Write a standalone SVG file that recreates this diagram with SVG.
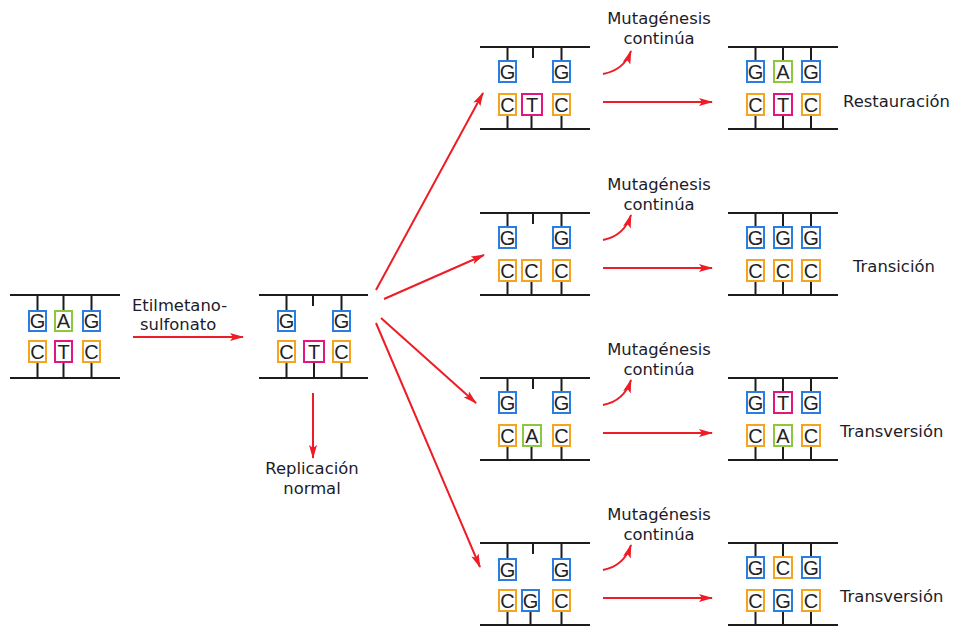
<svg xmlns="http://www.w3.org/2000/svg" width="956" height="629" viewBox="0 0 956 629">
  <style>
    .strand { stroke: #1c1c1c; stroke-width: 2; fill: none; }
    .base { fill: #fff; stroke-width: 2; }
    .g { stroke: #2a7de1; }
    .a { stroke: #8dc63f; }
    .t { stroke: #e4157f; }
    .c { stroke: #f5a41f; }
    .nt { font-family: "Liberation Sans", Arial, sans-serif; font-size: 20px; fill: #222; text-anchor: middle; }
    .lbl { font-family: "DejaVu Sans", "Noto Sans", sans-serif; font-size: 16.4px; fill: #1c1c2a; }
    .mid { text-anchor: middle; }
    .arrow { stroke: #ee1c24; stroke-width: 2; fill: none; marker-end: url(#head); }
  </style>
  <defs>
    <marker id="head" markerUnits="userSpaceOnUse" markerWidth="14" markerHeight="8" refX="13" refY="4" orient="auto">
      <path d="M0,0 L14,4 L0,8 L3,4 z" fill="#ee1c24"/>
    </marker>
  </defs>
  <rect width="956" height="629" fill="#fff"/>

  <!-- starting duplex G-A-G / C-T-C -->
  <g id="dna-start">
    <path class="strand" d="M10 295 H120 M10 378 H120 M37.5 295 V311 M63.5 295 V311 M91.5 295 V311 M37.5 362 V378 M63.5 362 V378 M91.5 362 V378"/>
    <rect class="base g" x="29" y="311" width="17" height="20"/><text class="nt" x="37.5" y="328">G</text>
    <rect class="base a" x="55" y="311" width="17" height="20"/><text class="nt" x="63.5" y="328">A</text>
    <rect class="base g" x="83" y="311" width="17" height="20"/><text class="nt" x="91.5" y="328">G</text>
    <rect class="base c" x="29" y="341" width="17" height="21"/><text class="nt" x="37.5" y="359">C</text>
    <rect class="base t" x="55" y="341" width="17" height="21"/><text class="nt" x="63.5" y="359">T</text>
    <rect class="base c" x="83" y="341" width="17" height="21"/><text class="nt" x="91.5" y="359">C</text>
  </g>

  <g id="label-ems">
    <text class="lbl"><tspan x="132" y="311">Etilmetano-</tspan><tspan x="140" y="330.3">sulfonato</tspan></text>
  </g>

  <!-- alkylated duplex: G lost opposite T -->
  <g id="dna-alkylated">
    <path class="strand" d="M259 295 H368 M259 378 H368 M286.5 295 V311 M313 295 V306 M341.5 295 V311 M286.5 362 V378 M314 362 V378 M341.5 362 V378"/>
    <rect class="base g" x="278" y="311" width="17" height="20"/><text class="nt" x="286.5" y="328">G</text>
    <rect class="base g" x="333" y="311" width="17" height="20"/><text class="nt" x="341.5" y="328">G</text>
    <rect class="base c" x="278" y="341" width="17" height="21"/><text class="nt" x="286.5" y="359">C</text>
    <rect class="base t" x="304" y="341" width="20" height="21"/><text class="nt" x="314" y="359">T</text>
    <rect class="base c" x="333" y="341" width="17" height="21"/><text class="nt" x="341.5" y="359">C</text>
  </g>

  <g id="label-replicacion">
    <text class="lbl mid"><tspan x="312" y="474.4">Replicación</tspan><tspan x="312" y="493.6">normal</tspan></text>
  </g>

  <!-- row 1: restoration -->
  <g id="dna-r1-intermediate" transform="translate(0 47)">
    <path class="strand" d="M480 0 H590 M480 82 H590 M507.5 0 V14 M533 0 V11 M561.5 0 V14 M507.5 68 V82 M531.5 68 V82 M561.5 68 V82"/>
    <rect class="base g" x="499" y="14" width="17" height="21"/><text class="nt" x="507.5" y="32">G</text>
    <rect class="base g" x="553" y="14" width="17" height="21"/><text class="nt" x="561.5" y="32">G</text>
    <rect class="base c" x="499" y="47" width="17" height="21"/><text class="nt" x="507.5" y="65">C</text>
    <rect class="base t" x="522" y="47" width="20" height="21"/><text class="nt" x="532" y="65">T</text>
    <rect class="base c" x="553" y="47" width="17" height="21"/><text class="nt" x="561.5" y="65">C</text>
  </g>
  <g id="label-mut-r1">
    <text class="lbl mid"><tspan x="659" y="24.4">Mutagénesis</tspan><tspan x="659" y="43.6">continúa</tspan></text>
  </g>
  <g id="dna-r1-product" transform="translate(0 47)">
    <path class="strand" d="M728 0 H838 M728 82 H838 M755.5 0 V14 M783 0 V14 M811 0 V14 M755.5 68 V82 M783 68 V82 M811 68 V82"/>
    <rect class="base g" x="747" y="14" width="17" height="21"/><text class="nt" x="755.5" y="32">G</text>
    <rect class="base a" x="774" y="14" width="18" height="21"/><text class="nt" x="783" y="32">A</text>
    <rect class="base g" x="802" y="14" width="18" height="21"/><text class="nt" x="811" y="32">G</text>
    <rect class="base c" x="747" y="47" width="17" height="21"/><text class="nt" x="755.5" y="65">C</text>
    <rect class="base t" x="774" y="47" width="18" height="21"/><text class="nt" x="783" y="65">T</text>
    <rect class="base c" x="802" y="47" width="18" height="21"/><text class="nt" x="811" y="65">C</text>
  </g>
  <g id="label-r1"><text class="lbl" x="843" y="107">Restauración</text></g>

  <!-- row 2: transition -->
  <g id="dna-r2-intermediate" transform="translate(0 213)">
    <path class="strand" d="M480 0 H590 M480 82 H590 M507.5 0 V14 M533 0 V11 M561.5 0 V14 M507.5 68 V82 M531.5 68 V82 M561.5 68 V82"/>
    <rect class="base g" x="499" y="14" width="17" height="21"/><text class="nt" x="507.5" y="32">G</text>
    <rect class="base g" x="553" y="14" width="17" height="21"/><text class="nt" x="561.5" y="32">G</text>
    <rect class="base c" x="499" y="47" width="17" height="21"/><text class="nt" x="507.5" y="65">C</text>
    <rect class="base c" x="522" y="47" width="19" height="21"/><text class="nt" x="531.5" y="65">C</text>
    <rect class="base c" x="553" y="47" width="17" height="21"/><text class="nt" x="561.5" y="65">C</text>
  </g>
  <g id="label-mut-r2">
    <text class="lbl mid"><tspan x="659" y="190.4">Mutagénesis</tspan><tspan x="659" y="209.6">continúa</tspan></text>
  </g>
  <g id="dna-r2-product" transform="translate(0 213)">
    <path class="strand" d="M728 0 H838 M728 82 H838 M755.5 0 V14 M783 0 V14 M811 0 V14 M755.5 68 V82 M783 68 V82 M811 68 V82"/>
    <rect class="base g" x="747" y="14" width="17" height="21"/><text class="nt" x="755.5" y="32">G</text>
    <rect class="base g" x="774" y="14" width="18" height="21"/><text class="nt" x="783" y="32">G</text>
    <rect class="base g" x="802" y="14" width="18" height="21"/><text class="nt" x="811" y="32">G</text>
    <rect class="base c" x="747" y="47" width="17" height="21"/><text class="nt" x="755.5" y="65">C</text>
    <rect class="base c" x="774" y="47" width="18" height="21"/><text class="nt" x="783" y="65">C</text>
    <rect class="base c" x="802" y="47" width="18" height="21"/><text class="nt" x="811" y="65">C</text>
  </g>
  <g id="label-r2"><text class="lbl" x="853" y="272">Transición</text></g>

  <!-- row 3: transversion (A opposite T) -->
  <g id="dna-r3-intermediate" transform="translate(0 378)">
    <path class="strand" d="M480 0 H590 M480 82 H590 M507.5 0 V14 M533 0 V11 M561.5 0 V14 M507.5 68 V82 M531.5 68 V82 M561.5 68 V82"/>
    <rect class="base g" x="499" y="14" width="17" height="21"/><text class="nt" x="507.5" y="32">G</text>
    <rect class="base g" x="553" y="14" width="17" height="21"/><text class="nt" x="561.5" y="32">G</text>
    <rect class="base c" x="499" y="47" width="17" height="21"/><text class="nt" x="507.5" y="65">C</text>
    <rect class="base a" x="523" y="47" width="18" height="21"/><text class="nt" x="532" y="65">A</text>
    <rect class="base c" x="553" y="47" width="17" height="21"/><text class="nt" x="561.5" y="65">C</text>
  </g>
  <g id="label-mut-r3">
    <text class="lbl mid"><tspan x="659" y="355.4">Mutagénesis</tspan><tspan x="659" y="374.6">continúa</tspan></text>
  </g>
  <g id="dna-r3-product" transform="translate(0 378)">
    <path class="strand" d="M728 0 H838 M728 82 H838 M755.5 0 V14 M783 0 V14 M811 0 V14 M755.5 68 V82 M783 68 V82 M811 68 V82"/>
    <rect class="base g" x="747" y="14" width="17" height="21"/><text class="nt" x="755.5" y="32">G</text>
    <rect class="base t" x="774" y="14" width="18" height="21"/><text class="nt" x="783" y="32">T</text>
    <rect class="base g" x="802" y="14" width="18" height="21"/><text class="nt" x="811" y="32">G</text>
    <rect class="base c" x="747" y="47" width="17" height="21"/><text class="nt" x="755.5" y="65">C</text>
    <rect class="base a" x="774" y="47" width="18" height="21"/><text class="nt" x="783" y="65">A</text>
    <rect class="base c" x="802" y="47" width="18" height="21"/><text class="nt" x="811" y="65">C</text>
  </g>
  <g id="label-r3"><text class="lbl" x="840" y="437">Transversión</text></g>

  <!-- row 4: transversion (G opposite C) -->
  <g id="dna-r4-intermediate" transform="translate(0 543)">
    <path class="strand" d="M480 0 H590 M480 82 H590 M507.5 0 V16 M533 0 V11 M561.5 0 V16 M507.5 68 V82 M530.5 68 V82 M561.5 68 V82"/>
    <rect class="base g" x="499" y="16" width="17" height="21"/><text class="nt" x="507.5" y="34">G</text>
    <rect class="base g" x="553" y="16" width="17" height="21"/><text class="nt" x="561.5" y="34">G</text>
    <rect class="base c" x="499" y="47" width="17" height="21"/><text class="nt" x="507.5" y="65">C</text>
    <rect class="base g" x="522" y="47" width="17" height="21"/><text class="nt" x="530.5" y="65">G</text>
    <rect class="base c" x="553" y="47" width="17" height="21"/><text class="nt" x="561.5" y="65">C</text>
  </g>
  <g id="label-mut-r4">
    <text class="lbl mid"><tspan x="659" y="520.4">Mutagénesis</tspan><tspan x="659" y="539.6">continúa</tspan></text>
  </g>
  <g id="dna-r4-product" transform="translate(0 543)">
    <path class="strand" d="M728 0 H838 M728 82 H838 M755.5 0 V14 M783 0 V14 M811 0 V14 M755.5 68 V82 M783 68 V82 M811 68 V82"/>
    <rect class="base g" x="747" y="14" width="17" height="21"/><text class="nt" x="755.5" y="32">G</text>
    <rect class="base c" x="774" y="14" width="18" height="21"/><text class="nt" x="783" y="32">C</text>
    <rect class="base g" x="802" y="14" width="18" height="21"/><text class="nt" x="811" y="32">G</text>
    <rect class="base c" x="747" y="47" width="17" height="21"/><text class="nt" x="755.5" y="65">C</text>
    <rect class="base g" x="774" y="47" width="18" height="21"/><text class="nt" x="783" y="65">G</text>
    <rect class="base c" x="802" y="47" width="18" height="21"/><text class="nt" x="811" y="65">C</text>
  </g>
  <g id="label-r4"><text class="lbl" x="840" y="602">Transversión</text></g>

  <!-- connectors -->
  <g id="connectors">
    <path class="arrow" d="M133 337 H243"/>
    <path class="arrow" d="M313 393 V458"/>
    <path class="arrow" d="M376 290 L483 93"/>
    <path class="arrow" d="M384 299 L484 255"/>
    <path class="arrow" d="M381 318 L476 403"/>
    <path class="arrow" d="M376 323 L480 567"/>

    <path class="arrow" d="M603 74 Q624 70 631 51"/>
    <path class="arrow" d="M603 102 H712"/>
    <path class="arrow" d="M603 240 Q624 236 631 215"/>
    <path class="arrow" d="M603 268 H712"/>
    <path class="arrow" d="M603 405 Q624 401 631 380"/>
    <path class="arrow" d="M603 433 H712"/>
    <path class="arrow" d="M603 570 Q624 566 631 545"/>
    <path class="arrow" d="M603 598 H712"/>
  </g>
</svg>
